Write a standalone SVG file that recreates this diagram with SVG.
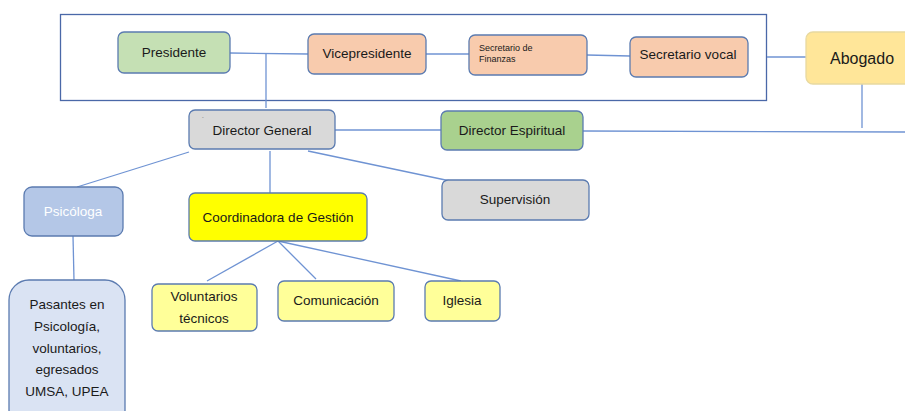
<svg xmlns="http://www.w3.org/2000/svg" width="905" height="411" viewBox="0 0 905 411">
<style>
.n{stroke:#5b7bb0;stroke-width:1.3}
.t{font-family:"Liberation Sans",Arial,sans-serif;font-size:13.5px;fill:#1a1a1a;text-anchor:middle}
.c{stroke:#6f93d3;stroke-width:1.3;fill:none}
</style>
<rect width="905" height="411" fill="#ffffff"/>
<g id="connectors">
<rect x="60.5" y="14.5" width="706" height="86" fill="none" stroke="#4a68a8" stroke-width="1.3"/>
<path class="c" d="M230 53 L308 54"/>
<path class="c" d="M266 54 L266 108"/>
<path class="c" d="M426 54 L469 54"/>
<path class="c" d="M587 55 L630 56"/>
<path class="c" d="M767 57 L806 57"/>
<path class="c" d="M862 84 L862 128"/>
<path class="c" d="M335 130 L441 130"/>
<path class="c" d="M583 131 L905 132"/>
<path class="c" d="M189 152 L77 187"/>
<path class="c" d="M270 151 L270 193"/>
<path class="c" d="M308 151 L455 182"/>
<path class="c" d="M73 236 L74 280"/>
<path class="c" d="M278 241 L207 281"/>
<path class="c" d="M278 241 L316 279"/>
<path class="c" d="M278 241 L461 281"/>
</g>
<g id="presidente"><rect class="n" x="118" y="32" width="112" height="41" rx="6" fill="#c5e0b4"/><text class="t" x="174" y="57">Presidente</text></g>
<g id="vicepresidente"><rect class="n" x="308" y="34" width="118" height="40" rx="6" fill="#f8cbad"/><text class="t" x="367" y="58">Vicepresidente</text></g>
<g id="secretario-finanzas"><rect class="n" x="469" y="35" width="118" height="40" rx="6" fill="#f8cbad"/><text style="font-family:'Liberation Sans',Arial,sans-serif;font-size:9px;fill:#1a1a1a" x="479" y="51">Secretario de</text><text style="font-family:'Liberation Sans',Arial,sans-serif;font-size:9px;fill:#1a1a1a" x="479" y="62">Finanzas</text></g>
<g id="secretario-vocal"><rect class="n" x="630" y="37" width="118" height="40" rx="6" fill="#f8cbad"/><text class="t" x="688" y="59">Secretario vocal</text></g>
<g id="abogado"><rect x="806" y="32" width="110" height="52" rx="7" fill="#ffe699" stroke="#e8d9a0" stroke-width="1.3"/><text class="t" x="862" y="64" style="font-size:16px">Abogado</text></g>
<g id="director-general"><rect class="n" x="189" y="110" width="146" height="39" rx="6" fill="#d9d9d9"/><text class="t" x="203" y="122" style="font-size:8px;fill:#777">´</text><text class="t" x="262" y="135">Director General</text></g>
<g id="director-espiritual"><rect class="n" x="441" y="111" width="142" height="39" rx="6" fill="#a9d18e"/><text class="t" x="512" y="135">Director Espiritual</text></g>
<g id="psicologa"><rect class="n" x="24" y="187" width="99" height="49" rx="8" fill="#b4c7e7"/><text class="t" x="73" y="216" style="fill:#ffffff">Psicóloga</text></g>
<g id="coordinadora"><rect class="n" x="189" y="193" width="178" height="48" rx="6" fill="#ffff00"/><text class="t" x="278" y="222">Coordinadora de Gestión</text></g>
<g id="supervision"><rect class="n" x="442" y="180" width="147" height="40" rx="6" fill="#d9d9d9"/><text class="t" x="515" y="204">Supervisión</text></g>
<g id="pasantes"><rect class="n" x="9" y="280" width="116" height="150" rx="20" fill="#dae3f3"/><text class="t" x="67" y="309">Pasantes en</text><text class="t" x="67" y="331">Psicología,</text><text class="t" x="67" y="353">voluntarios,</text><text class="t" x="67" y="374">egresados</text><text class="t" x="67" y="396">UMSA, UPEA</text></g>
<g id="voluntarios"><rect class="n" x="152" y="284" width="105" height="47" rx="6" fill="#ffff99"/><text class="t" x="204" y="301">Voluntarios</text><text class="t" x="204" y="323">técnicos</text></g>
<g id="comunicacion"><rect class="n" x="278" y="281" width="116" height="40" rx="6" fill="#ffff99"/><text class="t" x="336" y="305">Comunicación</text></g>
<g id="iglesia"><rect class="n" x="425" y="281" width="75" height="40" rx="6" fill="#ffff99"/><text class="t" x="462" y="305">Iglesia</text></g>
</svg>
